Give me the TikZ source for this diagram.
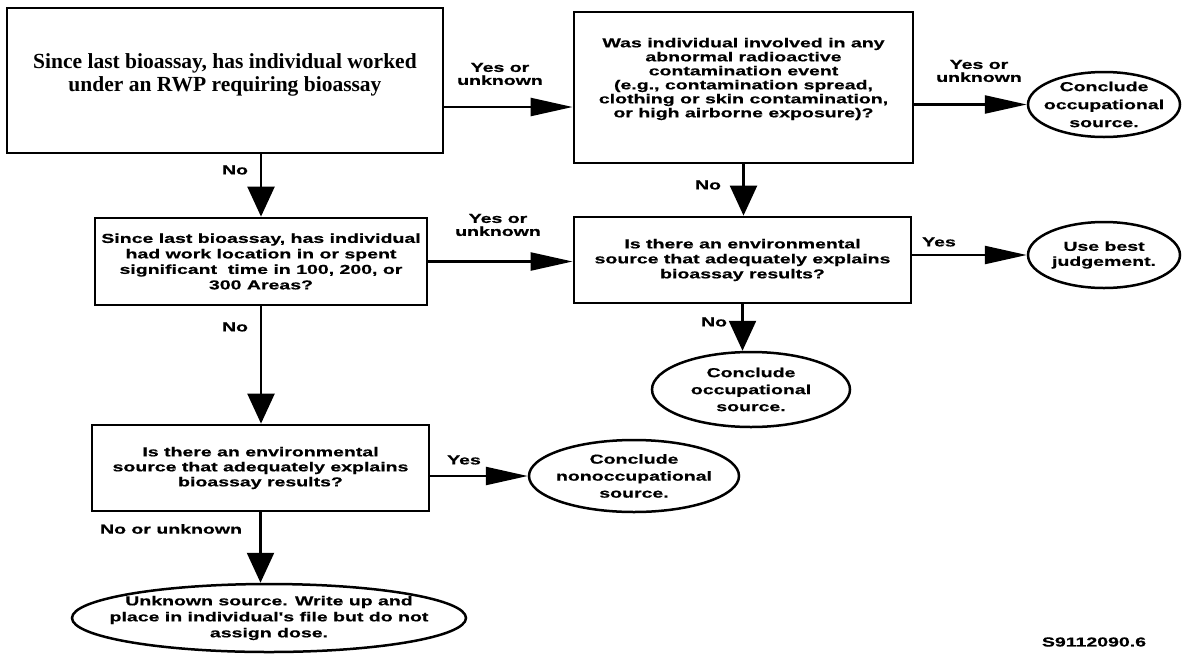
\documentclass[tikz,border=0pt]{standalone}
\usepackage{fontspec}
\newfontfamily\sfb{Liberation Sans}[FakeStretch=1.5,FakeBold=0.6]
\newfontfamily\serb{Liberation Serif}
\usetikzlibrary{shapes.geometric,arrows.meta}
\tikzset{
  qbox/.style={draw,line width=2.8pt,rectangle,inner sep=0pt,align=center,
    font=\sfb\bfseries\fontsize{13}{15}\selectfont},
  qtext/.style={align=center,inner sep=0pt,font=\sfb\bfseries\fontsize{13}{14}\selectfont},
  term/.style={draw,line width=2.5pt,ellipse,inner sep=0pt},
  lbl/.style={align=center,inner sep=0pt,font=\sfb\bfseries\fontsize{13}{13}\selectfont},
  harr/.style={line width=2.4pt,-{Triangle[length=42pt,width=18pt]}},
  varr/.style={line width=2.4pt,-{Triangle[length=30pt,width=27pt]}},
}
\begin{document}
\begin{tikzpicture}[x=1pt,y=-1pt]
\useasboundingbox (0,0) rectangle (1183,654);
% boxes
\node[qbox,minimum width=436pt,minimum height=145pt] (b1) at (225,80.5) {};
\node[align=center,inner sep=0pt,font=\serb\bfseries\fontsize{21.5}{23}\selectfont] (b1t) at (225,75)
  {Since last bioassay, has individual worked\\under an RWP requiring bioassay};
\node[qbox,minimum width=339pt,minimum height=151pt] (b2) at (743.5,87.5) {};
\node[qtext] (b2t) at (743.5,79)
  {Was individual involved in any\\abnormal radioactive\\contamination event\\(e.g., contamination spread,\\clothing or skin contamination,\\or high airborne exposure)?};
\node[qbox,minimum width=332pt,minimum height=87pt,font=\sfb\bfseries\fontsize{13}{15.5}\selectfont] (b3) at (261,261.5)
  {Since last bioassay, has individual\\had work location in or spent\\significant\ \ time in 100, 200, or\\300 Areas?};
\node[qbox,minimum width=337pt,minimum height=86pt] (b4) at (742.5,260)
  {Is there an environmental\\source that adequately explains\\bioassay results?};
\node[qbox,minimum width=337pt,minimum height=86pt] (b5) at (260.5,468)
  {Is there an environmental\\source that adequately explains\\bioassay results?};
% terminals
\node[term,minimum width=152pt,minimum height=65pt,
  label={[qtext,font=\sfb\bfseries\fontsize{13}{18}\selectfont]center:{Conclude\\occupational\\source.}}] (e1) at (1104,104.5) {};
\node[term,minimum width=152pt,minimum height=66pt,
  label={[qtext,font=\sfb\bfseries\fontsize{13}{15}\selectfont]center:{Use best\\judgement.}}] (e2) at (1104,255) {};
\node[term,minimum width=198pt,minimum height=75pt,
  label={[qtext,font=\sfb\bfseries\fontsize{13}{17}\selectfont]center:{Conclude\\occupational\\source.}}] (e3) at (751,389.5) {};
\node[term,minimum width=210pt,minimum height=72pt,
  label={[qtext,font=\sfb\bfseries\fontsize{13}{17}\selectfont]center:{Conclude\\nonoccupational\\source.}}] (e4) at (634,476) {};
\node[term,minimum width=394pt,minimum height=68pt,
  label={[qtext,font=\sfb\bfseries\fontsize{13}{16}\selectfont]center:{Unknown source. Write up and\\place in individual's file but do not\\assign dose.}}] (e5) at (269,618) {};
% connectors
\draw[harr] (b1.east |- 0,107) -- (b2.west |- 0,107);
\draw[varr] (b1.south -| b3.north) -- (b3.north);
\draw[harr] (b2.east |- e1.west) -- (e1.west);
\draw[varr] (b2.south) -- (b2.south |- b4.north);
\draw[harr] (b3.east) -- (b4.west |- b3.east);
\draw[varr] (b3.south) -- (b3.south |- b5.north);
\draw[harr] (b4.east |- e2.west) -- (e2.west);
\draw[varr] (b4.south) -- (b4.south |- e3.north);
\draw[harr] (b5.east |- e4.west) -- (e4.west);
\draw[varr] (b5.south) -- (b5.south |- e5.north);
% labels
\node[lbl] (l1) at (500,74) {Yes or\\unknown};
\node[lbl] (l2) at (498,225) {Yes or\\unknown};
\node[lbl] (l3) at (979,71) {Yes or\\unknown};
\node[lbl] (l4) at (235,170) {No};
\node[lbl] (l5) at (708,185) {No};
\node[lbl] (l6) at (235,327) {No};
\node[lbl] (l7) at (714,322) {No};
\node[lbl] (l8) at (939,242) {Yes};
\node[lbl] (l9) at (464,460) {Yes};
\node[lbl] (l10) at (171,529) {No or unknown};
\node[lbl] (l11) at (1094,642) {S9112090.6};
\end{tikzpicture}
\end{document}
